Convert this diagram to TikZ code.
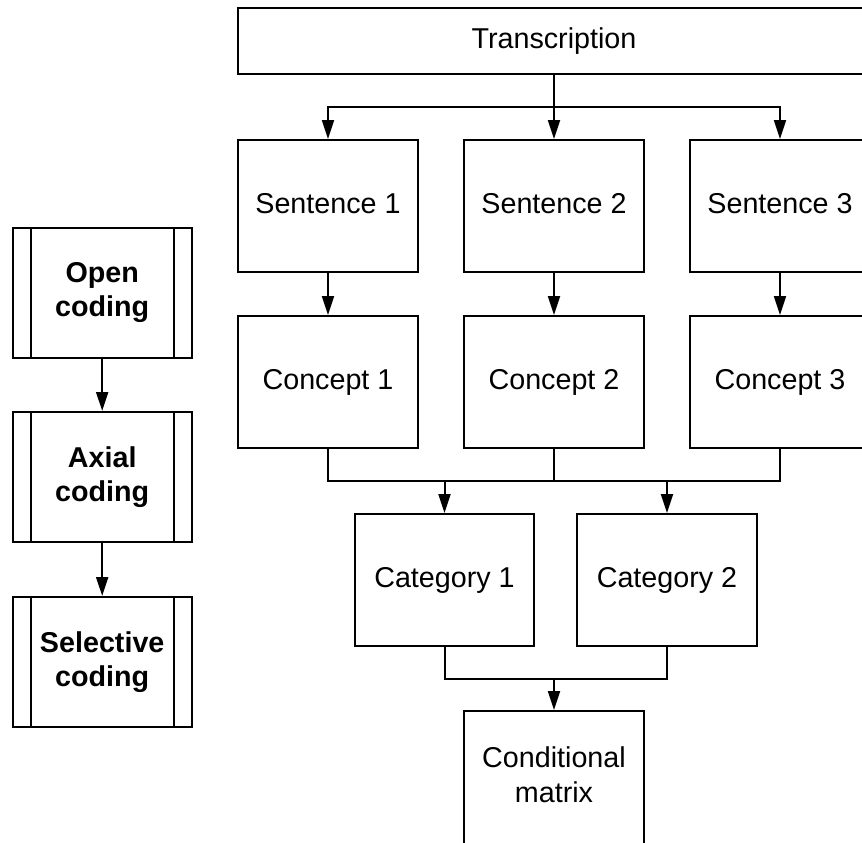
\documentclass[tikz,border=0pt]{standalone}
\usepackage{fontspec}
\setmainfont{Liberation Sans}
\usetikzlibrary{arrows.meta}
\begin{document}
\begin{tikzpicture}[x=1pt,y=-1pt,
  box/.style={draw=black, line width=2pt, fill=white, inner sep=0pt,
    minimum width=180pt, minimum height=132pt,
    font=\fontsize{28.7}{34.4}\selectfont, align=center},
  one/.style={text height=20.5pt, text depth=6pt},
  proc/.style={box, minimum width=179pt, minimum height=130pt,
    font=\fontsize{28.7}{34}\selectfont\bfseries,
    path picture={
      \draw[line width=2pt] ([xshift=18pt]path picture bounding box.north west) -- ([xshift=18pt]path picture bounding box.south west);
      \draw[line width=2pt] ([xshift=-18pt]path picture bounding box.north east) -- ([xshift=-18pt]path picture bounding box.south east);}},
  arr/.style={draw=black, line width=2pt, -{Triangle[length=19pt,width=12pt]}},
  ln/.style={draw=black, line width=2pt}
]
\useasboundingbox (0,0) rectangle (862,843);
\clip (0,0) rectangle (862,843);

% main flow
\node[box,one,minimum width=632pt,minimum height=66pt] (T) at (554,41) {Transcription};
\node[box,one] (S1) at (328,206) {Sentence 1};
\node[box,one] (S2) at (554,206) {Sentence 2};
\node[box,one] (S3) at (780,206) {Sentence 3};
\node[box,one] (C1) at (328,382) {Concept 1};
\node[box,one] (C2) at (554,382) {Concept 2};
\node[box,one] (C3) at (780,382) {Concept 3};
\node[box,one,minimum width=179pt] (K1) at (444.5,580) {Category 1};
\node[box,one] (K2) at (667,580) {Category 2};
\node[box,minimum height=133pt] (M) at (554,777.5) {Conditional\\matrix\vphantom{g}};

% left process boxes
\node[proc] (O) at (102.2,293) {Open\\coding};
\node[proc] (A) at (102.2,477) {Axial\\coding};
\node[proc] (E) at (102.2,662) {Selective\\coding};

% connectors
\coordinate (jt) at (554,107);
\coordinate (jc) at (554,481);
\coordinate (jk) at (554,679);

\draw[arr] (T.south) -- (S2.north);
\draw[arr] (jt) -| (S1.north);
\draw[arr] (jt) -| (S3.north);

\draw[arr] (S1.south) -- (C1.north);
\draw[arr] (S2.south) -- (C2.north);
\draw[arr] (S3.south) -- (C3.north);

\draw[ln] (C1.south) |- (jc) -| (C3.south);
\draw[ln] (C2.south) -- (jc);
\draw[arr] (K1.north |- jc) -- (K1.north);
\draw[arr] (K2.north |- jc) -- (K2.north);

\draw[ln] (K1.south) |- (jk) -| (K2.south);
\draw[arr] (jk) -- (M.north);

\draw[arr] (O.south) -- (A.north);
\draw[arr] (A.south) -- (E.north);
\end{tikzpicture}
\end{document}
